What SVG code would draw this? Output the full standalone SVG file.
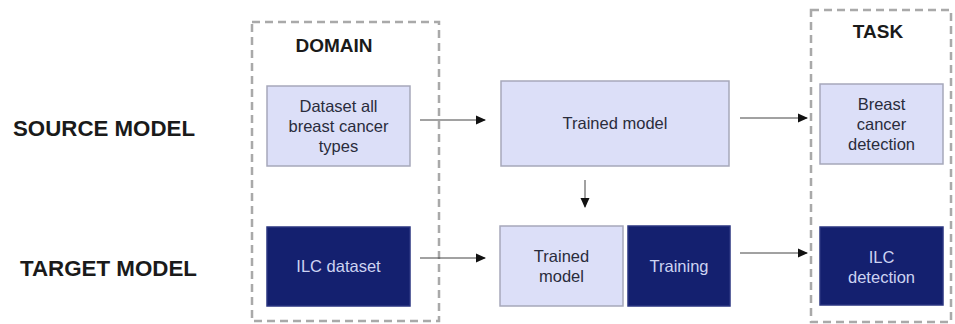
<svg xmlns="http://www.w3.org/2000/svg" width="955" height="324" viewBox="0 0 955 324">
<defs>
<style>
.frame{fill:none;stroke:#a9a9a9;stroke-width:2.5;stroke-dasharray:8 5}
.light{fill:#dcdff8;stroke:#a6a8ba;stroke-width:1.5}
.dark{fill:#14206f;stroke:#2a3580;stroke-width:1.5}
.t{font-family:"Liberation Sans",Arial,sans-serif;font-size:16.5px;text-anchor:middle}
.td{fill:#2a2c3c}
.tl{fill:#cdd3f2}
.h{font-family:"Liberation Sans",Arial,sans-serif;font-weight:bold;fill:#1a1a1a}
.c{stroke:#444;stroke-width:1;fill:none;marker-end:url(#ah)}
</style>
<marker id="ah" markerWidth="10" markerHeight="10" refX="9" refY="5" orient="auto" markerUnits="userSpaceOnUse">
<path d="M0,0.5 L10,5 L0,9.5 z" fill="#111"/>
</marker>
</defs>
<rect width="955" height="324" fill="#fff"/>
<g id="frames">
<rect class="frame" x="252" y="22" width="187" height="299"/>
<rect class="frame" x="811" y="10" width="140" height="312"/>
<text class="h" x="334" y="52" font-size="19" text-anchor="middle">DOMAIN</text>
<text class="h" x="878" y="38" font-size="19" text-anchor="middle">TASK</text>
</g>
<g id="row-labels">
<text class="h" x="13" y="136" font-size="21.5" textLength="182" lengthAdjust="spacingAndGlyphs">SOURCE MODEL</text>
<text class="h" x="20" y="276" font-size="21.5" textLength="177" lengthAdjust="spacingAndGlyphs">TARGET MODEL</text>
</g>
<g id="dataset-all">
<rect class="light" x="267" y="86" width="143" height="80"/>
<text class="t td" x="338.5" y="112">Dataset all</text>
<text class="t td" x="338.5" y="132">breast cancer</text>
<text class="t td" x="338.5" y="152">types</text>
</g>
<g id="trained-model-source">
<rect class="light" x="501" y="81" width="228" height="85"/>
<text class="t td" x="615" y="129">Trained model</text>
</g>
<g id="breast-cancer-detection">
<rect class="light" x="820" y="84" width="123" height="80"/>
<text class="t td" x="881.5" y="110">Breast</text>
<text class="t td" x="881.5" y="130">cancer</text>
<text class="t td" x="881.5" y="150">detection</text>
</g>
<g id="ilc-dataset">
<rect class="dark" x="267" y="227" width="143" height="79"/>
<text class="t tl" x="338.5" y="272">ILC dataset</text>
</g>
<g id="trained-model-target">
<rect class="light" x="500" y="226" width="123" height="80"/>
<text class="t td" x="561.5" y="262">Trained</text>
<text class="t td" x="561.5" y="282">model</text>
</g>
<g id="training">
<rect class="dark" x="628" y="226" width="102" height="80"/>
<text class="t tl" x="679" y="272">Training</text>
</g>
<g id="ilc-detection">
<rect class="dark" x="820" y="227" width="123" height="78"/>
<text class="t tl" x="881.5" y="263">ILC</text>
<text class="t tl" x="881.5" y="283">detection</text>
</g>
<g id="connectors">
<line class="c" x1="420" y1="120" x2="485" y2="120"/>
<line class="c" x1="740" y1="118" x2="807" y2="118"/>
<line class="c" x1="585" y1="180" x2="585" y2="207"/>
<line class="c" x1="420" y1="258" x2="485" y2="258"/>
<line class="c" x1="740" y1="253" x2="807" y2="253"/>
</g>
</svg>
